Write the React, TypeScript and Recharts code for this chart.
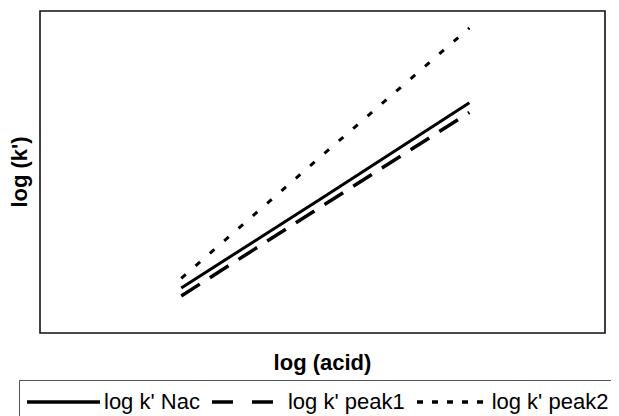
import React from 'react';
import { LineChart, Line, XAxis, YAxis, ReferenceArea, Legend } from 'recharts';

// log(acid) positions
const acidLog = [1.0, 2.0, 3.04];
// log k' for each compound
const nacValues = [0.56, 1.68, 2.86];
const peak1Values = [0.46, 1.58, 2.74];
const peak2Values = [0.68, 2.21, 3.79];

const seriesNames = ["log k' Nac", "log k' peak1", "log k' peak2"];

const rows = acidLog.map((x, i) => ({
  x,
  nac: nacValues[i],
  peak1: peak1Values[i],
  peak2: peak2Values[i],
}));

const FONT = '"Liberation Sans", Arial, Helvetica, sans-serif';

// legend samples
const legendIcons: Array<{ dash?: string; w: number; from: number; to: number; sw: number }> = [
  { w: 73, from: 0, to: 73, sw: 3.5 },
  { dash: '21 19', w: 80, from: 8, to: 72, sw: 3.5 },
  { dash: '6 9', w: 79, from: 8, to: 74, sw: 3.5 },
];

const renderLegend = () => (
  <div
    style={{
      borderLeft: '1.5px solid #555',
      borderTop: '1.5px solid #555',
      width: 700,
      height: 60,
      boxSizing: 'border-box',
      display: 'flex',
      alignItems: 'center',
      paddingLeft: 7,
      paddingBottom: 18,
      fontFamily: FONT,
      fontSize: 22,
      color: '#000',
      whiteSpace: 'nowrap',
    }}
  >
    {seriesNames.map((name, i) => {
      const ic = legendIcons[i];
      return (
        <React.Fragment key={name}>
          <svg width={ic.w} height={10} style={{ display: 'block', marginRight: 4 }}>
            <line x1={ic.from} x2={ic.to} y1={5} y2={5} stroke="#000" strokeWidth={ic.sw} strokeDasharray={ic.dash} />
          </svg>
          <span style={{ marginRight: 4 }}>{name}</span>
        </React.Fragment>
      );
    })}
  </div>
);

const YTitle = (props: any) => {
  const { x, y, height } = props.viewBox;
  const cx = x + 11;
  const cy = y + height / 2;
  return (
    <text x={cx} y={cy} transform={`rotate(-90 ${cx} ${cy})`} textAnchor="middle" dominantBaseline="central"
      fontFamily={FONT} fontWeight="bold" fontSize={22} fill="#000">
      log (k')
    </text>
  );
};

const XTitle = (props: any) => {
  const { x, y, width } = props.viewBox;
  return (
    <text x={x + width / 2} y={y + 37} textAnchor="middle" fontFamily={FONT} fontWeight="bold" fontSize={22} fill="#000">
      log (acid)
    </text>
  );
};

export default function App() {
  return (
    <div style={{ fontFamily: FONT }}>
      <style>{'html,body{overflow:hidden}'}</style>
      <LineChart width={611} height={408} data={rows} margin={{ top: 3, right: 14, bottom: 33, left: 0 }}>
        <XAxis type="number" dataKey="x" domain={[0, 4]} tick={false} axisLine={false} tickLine={false} height={50}
          label={{ content: XTitle }} />
        <YAxis type="number" domain={[0, 4]} tick={false} axisLine={false} tickLine={false} width={32}
          label={{ content: YTitle }} />
        <ReferenceArea x1={0} x2={4} y1={0} y2={4} fill="none" stroke="#111" strokeWidth={1.6} />
        <Line dataKey="nac" name={seriesNames[0]} stroke="#000" strokeWidth={3} dot={false} isAnimationActive={false} />
        <Line dataKey="peak1" name={seriesNames[1]} stroke="#000" strokeWidth={3.5} strokeDasharray="22 12" dot={false} isAnimationActive={false} />
        <Line dataKey="peak2" name={seriesNames[2]} stroke="#000" strokeWidth={3} strokeDasharray="6 13" dot={false} isAnimationActive={false} />
        <Legend verticalAlign="middle" align="center" layout="horizontal" content={renderLegend}
          wrapperStyle={{ top: 372, left: 11, width: 700 }} />
      </LineChart>
    </div>
  );
}
